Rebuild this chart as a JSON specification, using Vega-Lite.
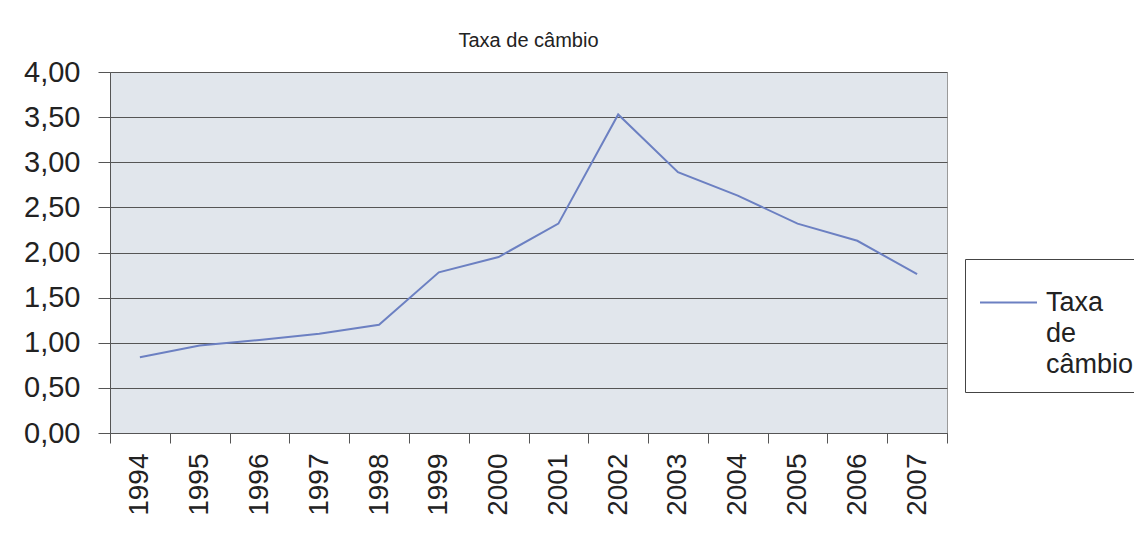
{
  "$schema": "https://vega.github.io/schema/vega-lite/v6.json",
  "width": 837,
  "height": 361,
  "autosize": {"type": "none"},
  "padding": {"left": 110, "top": 72, "right": 187, "bottom": 106},
  "background": "white",
  "title": {
    "text": "Taxa de câmbio",
    "font": "Liberation Sans",
    "fontSize": 20,
    "fontWeight": "normal",
    "color": "#222222",
    "anchor": "middle",
    "frame": "group",
    "baseline": "bottom",
    "offset": 20,
    "dy": 33
  },
  "data": {
    "values": [
      {"ano": "1994", "taxa": 0.84, "serie": "Taxa de câmbio"},
      {"ano": "1995", "taxa": 0.97, "serie": "Taxa de câmbio"},
      {"ano": "1996", "taxa": 1.03, "serie": "Taxa de câmbio"},
      {"ano": "1997", "taxa": 1.10, "serie": "Taxa de câmbio"},
      {"ano": "1998", "taxa": 1.20, "serie": "Taxa de câmbio"},
      {"ano": "1999", "taxa": 1.78, "serie": "Taxa de câmbio"},
      {"ano": "2000", "taxa": 1.95, "serie": "Taxa de câmbio"},
      {"ano": "2001", "taxa": 2.32, "serie": "Taxa de câmbio"},
      {"ano": "2002", "taxa": 3.53, "serie": "Taxa de câmbio"},
      {"ano": "2003", "taxa": 2.89, "serie": "Taxa de câmbio"},
      {"ano": "2004", "taxa": 2.63, "serie": "Taxa de câmbio"},
      {"ano": "2005", "taxa": 2.32, "serie": "Taxa de câmbio"},
      {"ano": "2006", "taxa": 2.13, "serie": "Taxa de câmbio"},
      {"ano": "2007", "taxa": 1.76, "serie": "Taxa de câmbio"}
    ]
  },
  "mark": {"type": "line", "strokeWidth": 2},
  "encoding": {
    "x": {
      "field": "ano",
      "type": "ordinal",
      "scale": {"type": "band", "paddingInner": 0, "paddingOuter": 0},
      "axis": {
        "title": null,
        "labelAngle": -90,
        "labelAlign": "right",
        "labelBaseline": "middle",
        "labelFont": "Liberation Sans",
        "labelFontSize": 28,
        "labelColor": "#222222",
        "labelPadding": 10,
        "tickBand": "extent",
        "tickSize": 10,
        "tickColor": "#555555",
        "domainColor": "#555555",
        "grid": false
      }
    },
    "y": {
      "field": "taxa",
      "type": "quantitative",
      "scale": {"domain": [0, 4], "nice": false, "zero": true},
      "axis": {
        "title": null,
        "values": [0, 0.5, 1, 1.5, 2, 2.5, 3, 3.5, 4],
        "labelExpr": "replace(format(datum.value, '.2f'), '.', ',')",
        "labelFont": "Liberation Sans",
        "labelFontSize": 29,
        "labelColor": "#222222",
        "labelPadding": 18,
        "tickSize": 12,
        "tickColor": "#555555",
        "domainColor": "#555555",
        "grid": true,
        "gridColor": "#555555",
        "gridWidth": 1
      }
    },
    "color": {
      "field": "serie",
      "type": "nominal",
      "scale": {"range": ["#6c80c2"]},
      "legend": {
        "title": null,
        "orient": "none",
        "legendX": 855,
        "legendY": 187,
        "strokeColor": "#444444",
        "fillColor": "white",
        "padding": 14,
        "symbolType": "stroke",
        "symbolSize": 3249,
        "symbolStrokeWidth": 2,
        "labelOffset": 8,
        "labelFont": "Liberation Sans",
        "labelFontSize": 27,
        "labelColor": "#222222",
        "labelBaseline": "middle",
        "labelLimit": 0,
        "labelExpr": "['Taxa', 'de', 'câmbio']",
        "encode": {"labels": {"update": {"lineHeight": {"value": 31}}}}
      }
    }
  },
  "config": {
    "view": {"fill": "#e1e6ec", "stroke": "#9a9a9a", "strokeWidth": 1}
  }
}
